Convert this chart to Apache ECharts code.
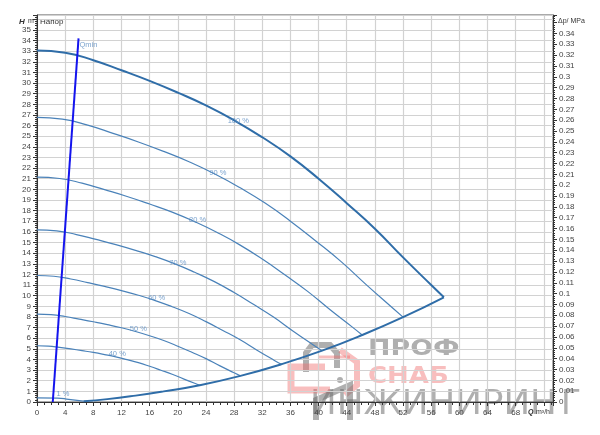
<!DOCTYPE html>
<html><head><meta charset="utf-8">
<script src="https://cdn.jsdelivr.net/npm/echarts@6/dist/echarts.min.js"></script>
<style>html,body{margin:0;padding:0;background:#fff}#c{width:600px;height:435px}</style>
</head><body><div id="c"></div>
<script>
// ---- data (Q in m3/h, H in m) ----
var Q100 = [0,4,8,12,16,20,24,28,32,36,40,44,48,52,56,57.8];
var H100 = [33.05,32.85,32.15,31.2,30.2,29.1,27.9,26.5,24.9,23.1,21.0,18.7,16.3,13.6,11.0,9.85];
var Q90 = [0,3.6,7.2,10.8,14.4,18,21.6,25.2,28.8,32.4,36,39.6,43.2,46.8,50.4,52.0];
var H90 = [26.77,26.61,26.04,25.27,24.46,23.57,22.6,21.47,20.17,18.71,17.01,15.15,13.2,11.02,8.91,7.98];
var Q80 = [0,3.2,6.4,9.6,12.8,16,19.2,22.4,25.6,28.8,32,35.2,38.4,41.6,44.8,46.2];
var H80 = [21.15,21.02,20.58,19.97,19.33,18.62,17.86,16.96,15.94,14.78,13.44,11.97,10.43,8.7,7.04,6.3];
var Q70 = [0,2.8,5.6,8.4,11.2,14,16.8,19.6,22.4,25.2,28,30.8,33.6,36.4,39.2,40.5];
var H70 = [16.19,16.1,15.75,15.29,14.8,14.26,13.67,12.99,12.2,11.32,10.29,9.16,7.99,6.66,5.39,4.83];
var Q60 = [0,2.4,4.8,7.2,9.6,12,14.4,16.8,19.2,21.6,24,26.4,28.8,31.2,33.6,34.7];
var H60 = [11.9,11.83,11.57,11.23,10.87,10.48,10.04,9.54,8.96,8.32,7.56,6.73,5.87,4.9,3.96,3.55];
var Q50 = [0,2,4,6,8,10,12,14,16,18,20,22,24,26,28,28.9];
var H50 = [8.26,8.21,8.04,7.8,7.55,7.28,6.98,6.63,6.23,5.78,5.25,4.68,4.08,3.4,2.75,2.46];
var Q40 = [0,1.6,3.2,4.8,6.4,8,9.6,11.2,12.8,14.4,16,17.6,19.2,20.8,22.4,23.1];
var H40 = [5.29,5.26,5.14,4.99,4.83,4.66,4.46,4.24,3.98,3.7,3.36,2.99,2.61,2.18,1.76,1.58];
var Q11 = [0,2.9,4.5,6.6];
var H11 = [0.38,0.37,0.25,0.08];
var QB = [6.6,10,14,18,23.1,28.9,34.7,40.5,46.2,52,57.8];
var HB = [0.08,0.27,0.6,1.0,1.58,2.46,3.55,4.83,6.3,7.98,9.85];
var QMIN_Q = [2.24,5.9];
var QMIN_H = [0,34.2];
var labelText = ['100 %','90 %','80 %','70 %','60 %','50 %','40 %','1 %','Qmin'];
var labelQ = [28.6,25.7,22.8,20.0,17.0,14.4,11.4,3.7,7.3];
var labelH = [26.4,21.5,17.1,13.1,9.75,6.9,4.55,0.72,33.6];
var xTicks = {min:0, max:73.3, interval:4};
var yTicks = {min:0, max:36.4, interval:1};
var pTicks = {min:0, max:0.357, interval:0.01};

function pairs(q,h){return q.map(function(v,i){return [v,h[i]];});}

var thin = '#4a82b9', thick = '#2f6da8';
function curve(q,h,w,c){return {type:'line',data:pairs(q,h),smooth:true,symbol:'none',lineStyle:{width:w,color:c},z:3,silent:true};}

var ch = echarts.init(document.getElementById('c'));
var font = 'Liberation Sans';
var gray = 'rgba(110,110,110,0.55)', pink = 'rgba(240,110,110,0.45)';
ch.setOption({
  animation:false,
  grid:{left:37,right:47,top:15,bottom:33,show:true,borderColor:'#555',borderWidth:1},
  xAxis:{type:'value',min:xTicks.min,max:xTicks.max,interval:xTicks.interval,
    axisLine:{lineStyle:{color:'#333'}},
    axisTick:{length:4,lineStyle:{color:'#333'}},
    minorTick:{show:true,splitNumber:4,length:3,lineStyle:{color:'#333'}},
    axisLabel:{fontSize:8,color:'#444',fontFamily:font,margin:7,
      formatter:function(v){return v>70?'':String(v);}},
    splitLine:{lineStyle:{color:'#d2d2d2',width:1.2}}},
  yAxis:[{type:'value',min:yTicks.min,max:yTicks.max,interval:yTicks.interval,
    axisLine:{show:true,lineStyle:{color:'#333'}},
    axisTick:{show:true,length:4,lineStyle:{color:'#333'}},
    minorTick:{show:true,splitNumber:5,length:2,lineStyle:{color:'#333'}},
    axisLabel:{fontSize:8,color:'#444',fontFamily:font,margin:6,
      formatter:function(v){return v>35.5?'':String(v);}},
    splitLine:{lineStyle:{color:'#d2d2d2',width:1.2}}},
   {type:'value',position:'right',min:pTicks.min,max:pTicks.max,interval:pTicks.interval,
    axisLine:{show:true,lineStyle:{color:'#333'}},
    axisTick:{show:true,length:4,lineStyle:{color:'#333'}},
    minorTick:{show:true,splitNumber:5,length:2,lineStyle:{color:'#333'}},
    axisLabel:{fontSize:8,color:'#444',fontFamily:font,margin:6,
      formatter:function(v){return v>0.345?'':String(parseFloat(v.toFixed(2)));}},
    splitLine:{show:false}}],
  graphic:[
    {type:'text',left:40,top:18,style:{text:'Напор',fontSize:8,fill:'#333',fontFamily:font}},
    {type:'text',left:19,top:18,style:{text:'H',fontSize:8,fontWeight:'bold',fontStyle:'italic',fill:'#333',fontFamily:font}},
    {type:'text',left:28,top:18,style:{text:'m',fontSize:7,fill:'#333',fontFamily:font}},
    {type:'text',left:558,top:18,style:{text:'Δp/ MPa',fontSize:7,fill:'#333',fontFamily:font}},
    {type:'text',left:528,top:409,style:{text:'Q',fontSize:7,fontStyle:'italic',fontWeight:'bold',fill:'#333',fontFamily:font},z:10},
    {type:'text',left:536,top:409,style:{text:'m³/h',fontSize:7,fill:'#333',fontFamily:font},z:10},
    {type:'text',x:368,y:338,scaleX:1.22,style:{text:'ПРОФ',fontSize:22,fontWeight:'bold',fill:gray,fontFamily:'DejaVu Sans'},z:0},
    {type:'text',x:368,y:366,scaleX:1.13,style:{text:'СНАБ',fontSize:23,fontWeight:'bold',fill:pink,fontFamily:'DejaVu Sans'},z:0},
    {type:'text',x:310,y:389,scaleX:1.08,style:{text:'ИНЖИНИРИН',fontSize:33,fill:gray,fontFamily:'DejaVu Sans'},z:0},
    {type:'text',x:561,y:389,scaleX:1.0,style:{text:'Г',fontSize:33,fill:gray,fontFamily:'DejaVu Sans'},z:1},
    {type:'polyline',shape:{points:[[306,372],[306,353],[312,345],[330,345],[337,353],[337,368]]},style:{stroke:gray,lineWidth:6,fill:null},z:0},
    {type:'polyline',shape:{points:[[325,367],[291,367],[291,390],[330,390]]},style:{stroke:pink,lineWidth:7,fill:null},z:0},
    {type:'polyline',shape:{points:[[318,357],[350,357]]},style:{stroke:pink,lineWidth:3,fill:null},z:0},
    {type:'polyline',shape:{points:[[340,350],[357,362],[357,385],[345,395]]},style:{stroke:pink,lineWidth:6,fill:null},z:0},
    {type:'polyline',shape:{points:[[316,420],[316,400],[350,385],[350,420]]},style:{stroke:gray,lineWidth:6,fill:null},z:0},
    {type:'circle',shape:{cx:340,cy:380,r:3},style:{fill:gray},z:0}
  ],
  series:[
    curve(Q100,H100,2,thick),
    curve(Q90,H90,1.2,thin),
    curve(Q80,H80,1.2,thin),
    curve(Q70,H70,1.2,thin),
    curve(Q60,H60,1.2,thin),
    curve(Q50,H50,1.2,thin),
    curve(Q40,H40,1.2,thin),
    curve(Q11,H11,1.2,thin),
    curve(QB,HB,2,thick),
    {type:'line',data:pairs(QMIN_Q,QMIN_H),symbol:'none',lineStyle:{width:2,color:'#1414ee'},z:4,silent:true},
    {type:'scatter',symbolSize:0,z:5,silent:true,
     data:labelText.map(function(t,i){return {value:[labelQ[i],labelH[i]],name:t};}),
     label:{show:true,position:'inside',formatter:function(p){return p.name;},fontSize:7.5,color:'#5a8cc2',fontFamily:font}}
  ]
});
</script></body></html>
